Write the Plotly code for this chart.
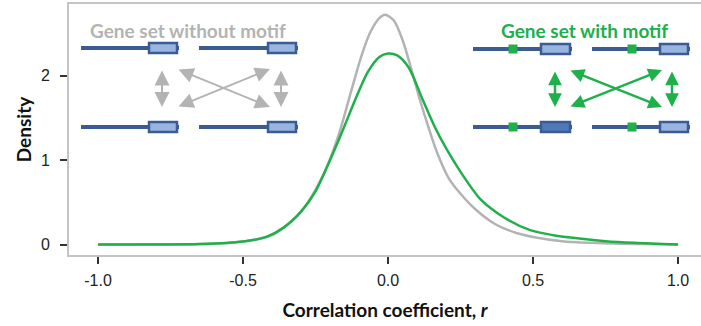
import plotly.graph_objects as go

# ---- data ----
r_without = [-1.0, -0.8, -0.6, -0.5, -0.4, -0.3, -0.22, -0.17, -0.13, -0.09, -0.06, -0.03, -0.01,
             0.02, 0.05, 0.08, 0.11, 0.14, 0.17, 0.21, 0.25, 0.3, 0.37, 0.44, 0.5, 0.6, 0.7, 0.8, 0.9, 1.0]
d_without = [0.0, 0.003, 0.01, 0.035, 0.11, 0.39, 0.85, 1.3, 1.78, 2.25, 2.52, 2.68, 2.72,
             2.65, 2.42, 2.08, 1.71, 1.38, 1.08, 0.78, 0.6, 0.42, 0.24, 0.14, 0.09, 0.04, 0.02, 0.01, 0.005, 0.0]

r_with = [-1.0, -0.8, -0.65, -0.5, -0.42, -0.36, -0.3, -0.25, -0.21, -0.16, -0.11, -0.07, -0.03, 0.0,
          0.03, 0.07, 0.12, 0.16, 0.2, 0.25, 0.32, 0.4, 0.49, 0.57, 0.66, 0.75, 0.85, 1.0]
d_with = [0.0, 0.001, 0.005, 0.035, 0.09, 0.2, 0.39, 0.63, 0.92, 1.32, 1.74, 2.04, 2.22, 2.26,
          2.24, 2.1, 1.71, 1.4, 1.14, 0.86, 0.53, 0.32, 0.17, 0.11, 0.07, 0.04, 0.02, 0.0]

x_ticks = [-1.0, -0.5, 0.0, 0.5, 1.0]
x_ticklabels = ["-1.0", "-0.5", "0.0", "0.5", "1.0"]
y_ticks = [0, 1, 2]
y_ticklabels = ["0", "1", "2"]

GRAY = "#b3b3b3"
GREEN = "#20b04b"
BLUE = "#3b5c92"
LIGHTBLUE = "#98b5df"
MIDBLUE = "#4f78b8"

W, H = 701, 326
ML, MR, MT, MB = 69, 0, 4, 71

TICKFONT = "Liberation Sans"

fig = go.Figure()
fig.add_trace(go.Scatter(x=r_without, y=d_without, mode="lines",
                         line=dict(color=GRAY, width=2.5, shape="spline", smoothing=0.8),
                         showlegend=False, hoverinfo="skip"))
fig.add_trace(go.Scatter(x=r_with, y=d_with, mode="lines",
                         line=dict(color=GREEN, width=2.5, shape="spline", smoothing=0.8),
                         showlegend=False, hoverinfo="skip"))

# pixel -> paper helpers for the decorative diagrams
def px(x):
    return (x - ML) / (W - ML - MR)

def py(y):
    return (H - MB - y) / (H - MT - MB)

shapes = []
annotations = []

def gene(x0, x1, bx1, y, motif=None, fill=LIGHTBLUE):
    shapes.append(dict(type="line", xref="paper", yref="paper",
                       x0=px(x0), x1=px(x1 + 3), y0=py(y), y1=py(y),
                       line=dict(color=BLUE, width=4)))
    shapes.append(dict(type="rect", xref="paper", yref="paper",
                       x0=px(x1), x1=px(bx1), y0=py(y - 5), y1=py(y + 5),
                       line=dict(color=BLUE, width=2.5), fillcolor=fill))
    shapes.append(dict(type="line", xref="paper", yref="paper",
                       x0=px(bx1), x1=px(bx1 + 2), y0=py(y), y1=py(y),
                       line=dict(color=BLUE, width=4)))
    if motif is not None:
        shapes.append(dict(type="rect", xref="paper", yref="paper",
                           x0=px(motif - 4.5), x1=px(motif + 4.5), y0=py(y - 4.5), y1=py(y + 4.5),
                           line=dict(color=GREEN, width=0), fillcolor=GREEN))

def darrow(xa, ya, xb, yb, color, width, size):
    annotations.append(dict(xref="paper", yref="paper", x=px(xb), y=py(yb),
                            ax=xa - xb, ay=ya - yb, axref="pixel", ayref="pixel",
                            showarrow=True, arrowhead=2, startarrowhead=2, arrowside="end+start",
                            arrowsize=size, startarrowsize=size, arrowwidth=width,
                            arrowcolor=color, text=""))

# left diagram: without motif
gene(81, 149, 177, 48)
gene(199, 268, 296, 48)
gene(81, 149, 177, 127)
gene(199, 268, 296, 127)
darrow(162, 69, 162, 107, GRAY, 2, 1.5)
darrow(281, 69, 281, 107, GRAY, 2, 1.5)
darrow(177, 69, 270, 107, GRAY, 2, 1.5)
darrow(177, 107, 270, 69, GRAY, 2, 1.5)
annotations.append(dict(xref="paper", yref="paper", x=px(188), y=py(30), xanchor="center", yanchor="middle",
                        text="<b>Gene set without motif</b>", showarrow=False,
                        font=dict(family="Lato", size=19, color=GRAY)))

# right diagram: with motif
gene(473, 541, 570, 49, motif=513)
gene(592, 660, 688, 49, motif=632)
gene(473, 541, 570, 127, motif=513, fill=MIDBLUE)
gene(592, 660, 688, 127, motif=632)
darrow(555, 70, 555, 107, GREEN, 2.5, 1.1)
darrow(672, 70, 672, 107, GREEN, 2.5, 1.1)
darrow(569, 70, 662, 107, GREEN, 2.5, 1.1)
darrow(569, 107, 662, 70, GREEN, 2.5, 1.1)
annotations.append(dict(xref="paper", yref="paper", x=px(584), y=py(30), xanchor="center", yanchor="middle",
                        text="<b>Gene set with motif</b>", showarrow=False,
                        font=dict(family="Lato", size=19, color=GREEN)))

fig.update_layout(
    width=W, height=H,
    margin=dict(l=ML, r=MR, t=MT, b=MB, pad=0),
    paper_bgcolor="white", plot_bgcolor="white",
    shapes=shapes, annotations=annotations,
    font=dict(family=TICKFONT, size=16, color="#222222"),
    xaxis=dict(range=[-1.1, 1.079], tickvals=x_ticks, ticktext=x_ticklabels,
               showgrid=False, zeroline=False, showline=True, linecolor="#c4c4c4", linewidth=2,
               mirror=True, ticks="outside", ticklen=7, tickwidth=2, tickcolor="#333333",
               ticklabelstandoff=3,
               tickfont=dict(family=TICKFONT, size=16, color="#222222"),
               title=dict(text="<b>Correlation coefficient, <i>r</i></b>", standoff=15,
                          font=dict(family="Lato", size=19, color="#111111"))),
    yaxis=dict(range=[-0.124, 2.846], tickvals=y_ticks, ticktext=y_ticklabels,
               showgrid=False, zeroline=False, showline=True, linecolor="#c4c4c4", linewidth=2,
               ticks="outside", ticklen=7, tickwidth=2, tickcolor="#333333",
               ticklabelstandoff=7,
               tickfont=dict(family=TICKFONT, size=16, color="#222222"),
               title=dict(text="<b>Density</b>", standoff=4,
                          font=dict(family="Lato", size=19, color="#111111"))),
)

fig.write_html("out.html")
